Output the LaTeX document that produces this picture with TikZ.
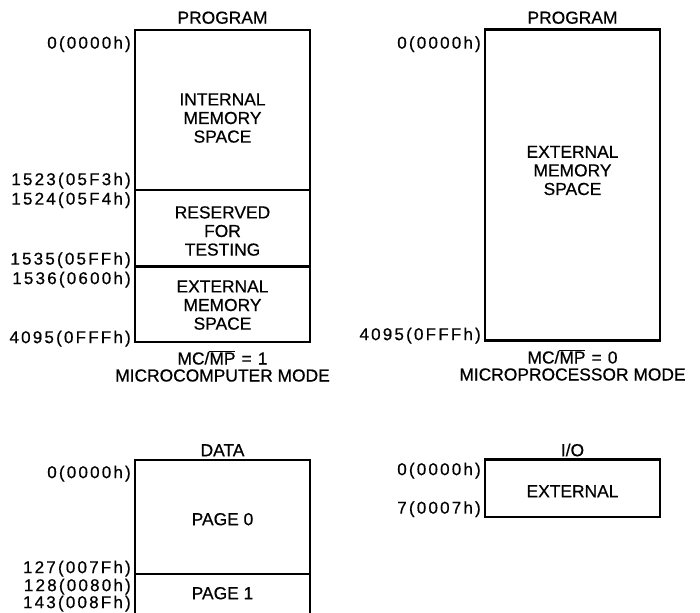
\documentclass[tikz,border=0pt]{standalone}
\usepackage{fontspec}
\setmainfont[FakeBold=0.6]{Liberation Sans}
\newfontfamily\lblfont[LetterSpace=13,FakeBold=0.6]{Liberation Sans}
\begin{document}
\begin{tikzpicture}[x=1pt,y=-1pt,
  box/.style={draw, line width=2.4pt},
  divider/.style={draw, line width=2.4pt},
  txt/.style={font=\fontsize{17.4}{18.6}\selectfont, align=center, inner sep=0pt, anchor=base},
  modecap/.style={font=\fontsize{17.4}{17}\selectfont, align=center, inner sep=0pt, anchor=base},
  ttl/.style={font=\fontsize{17.4}{18.6}\selectfont, inner sep=0pt, text height=12.4pt, text depth=0pt, anchor=center},
  lbl/.style={font=\fontsize{17}{18.6}\selectfont\lblfont, inner sep=0pt, text height=12.2pt, text depth=0pt, anchor=east}]
\useasboundingbox (0,0) rectangle (700,612);
\clip (0,0) rectangle (700,612);

% ---------- Program, microcomputer mode ----------
\draw[box] (135,30) rectangle (310,342);
\draw[divider] (135,190) -- (310,190);
\draw[divider] (135,266.5) -- (310,266.5);
\node[ttl] (t1) at (222.5,17.5) {PROGRAM};
\node[lbl] (a1) at (131,42.5) {0(0000h)};
\node[lbl] (a2) at (131,179) {1523(05F3h)};
\node[lbl] (a3) at (131,198.5) {1524(05F4h)};
\node[lbl] (a4) at (131,258.5) {1535(05FFh)};
\node[lbl] (a5) at (131,278) {1536(0600h)};
\node[lbl] (a6) at (131,337) {4095(0FFFh)};
\node[txt] (int) at (222.5,142.6) {INTERNAL\\MEMORY\\SPACE};
\node[txt] (res) at (222.5,255.6) {RESERVED\\FOR\\TESTING};
\node[txt] (ext1) at (222.5,329.6) {EXTERNAL\\MEMORY\\SPACE};
\node[modecap] (m1) at (222.5,381.5) {MC/$\overline{\mbox{MP}}$\hspace{0.35em}=\hspace{0.35em}1\\MICROCOMPUTER MODE};

% ---------- Program, microprocessor mode ----------
\draw[box] (485,29.5) rectangle (660,340.5);
\node[ttl] (t2) at (572.5,17.5) {PROGRAM};
\node[lbl] (b1) at (481,42.5) {0(0000h)};
\node[lbl] (b2) at (481,334) {4095(0FFFh)};
\node[txt] (ext2) at (572.5,195) {EXTERNAL\\MEMORY\\SPACE};
\node[modecap] (m2) at (572.5,380.5) {MC/$\overline{\mbox{MP}}$\hspace{0.35em}=\hspace{0.35em}0\\MICROPROCESSOR MODE};

% ---------- Data ----------
\draw[box] (135,640) -- (135,460) -- (310,460) -- (310,640);
\draw[divider] (135,574) -- (310,574);
\node[ttl] (t3) at (222.5,450) {DATA};
\node[lbl] (c1) at (131,472) {0(0000h)};
\node[lbl] (c2) at (131,567) {127(007Fh)};
\node[lbl] (c3) at (131,585) {128(0080h)};
\node[lbl] (c4) at (131,602) {143(008Fh)};
\node[ttl] (p0) at (222.5,519) {PAGE 0};
\node[ttl] (p1) at (222.5,593) {PAGE 1};

% ---------- I/O ----------
\draw[box] (485,459.5) rectangle (660,517);
\node[ttl] (t4) at (572.5,450) {I/O};
\node[lbl] (d1) at (481,469) {0(0000h)};
\node[lbl] (d2) at (481,507.5) {7(0007h)};
\node[ttl] (ioext) at (572.5,491) {EXTERNAL};
\end{tikzpicture}
\end{document}
